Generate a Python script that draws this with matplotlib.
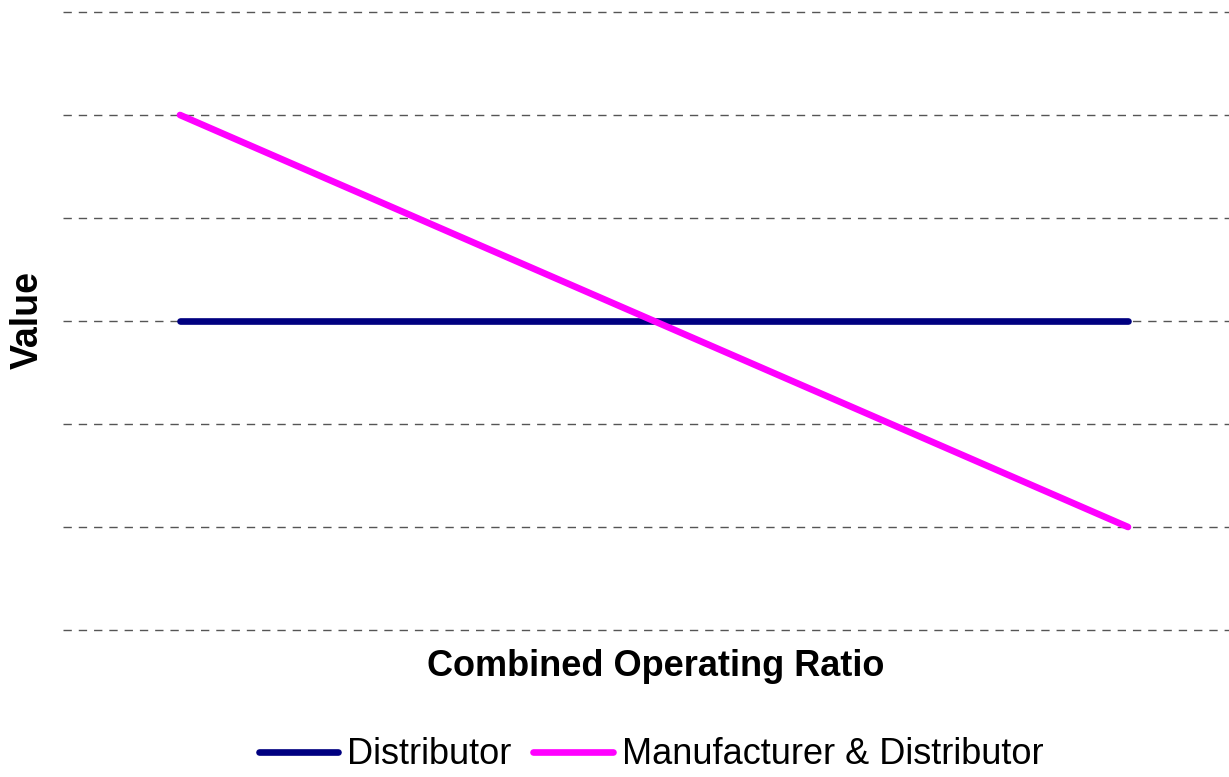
import matplotlib
matplotlib.use("Agg")
import matplotlib.pyplot as plt

plt.rcParams['font.family'] = ['Liberation Sans', 'DejaVu Sans']

# Data
categories = [0, 1, 2, 3, 4]
distributor = [3, 3, 3, 3, 3]
manufacturer_distributor = [5, 4, 3, 2, 1]
y_ticks = [0, 1, 2, 3, 4, 5, 6]

fig = plt.figure(figsize=(12.29, 7.77), dpi=100)
ax = fig.add_axes([63 / 1229, 147 / 777, 1166 / 1229, 618 / 777])

ax.plot(categories, distributor, color='#000080', lw=4.8,
        solid_capstyle='round', label='Distributor', zorder=3)
ax.plot(categories, manufacturer_distributor, color='#FF00FF', lw=4.8,
        solid_capstyle='round', label='Manufacturer & Distributor', zorder=4)

# dashed horizontal grid
for y in y_ticks:
    ax.axhline(y, color='#555555', lw=1, dashes=(6, 5), zorder=1, clip_on=False)

ax.set_xlim(-117 / 237, (1229 - 180) / 237)
ax.set_ylim(0, 6)
ax.set_xticks([])
ax.set_yticks([])
for s in ax.spines.values():
    s.set_visible(False)

fig.text(28 / 1229, 1 - 320 / 777, 'Value', rotation=90, fontsize=27,
         fontweight='bold', ha='center', va='center')
fig.text(656 / 1229, 1 - 667 / 777, 'Combined Operating Ratio', fontsize=26,
         fontweight='bold', ha='center', va='center')

fig.legend(loc='center', bbox_to_anchor=(651 / 1229, 1 - 755 / 777), ncol=2,
           frameon=False, fontsize=26, handlelength=2.2, handletextpad=0.25,
           columnspacing=0.6, borderpad=0)

fig.savefig('out.png', dpi=100)
